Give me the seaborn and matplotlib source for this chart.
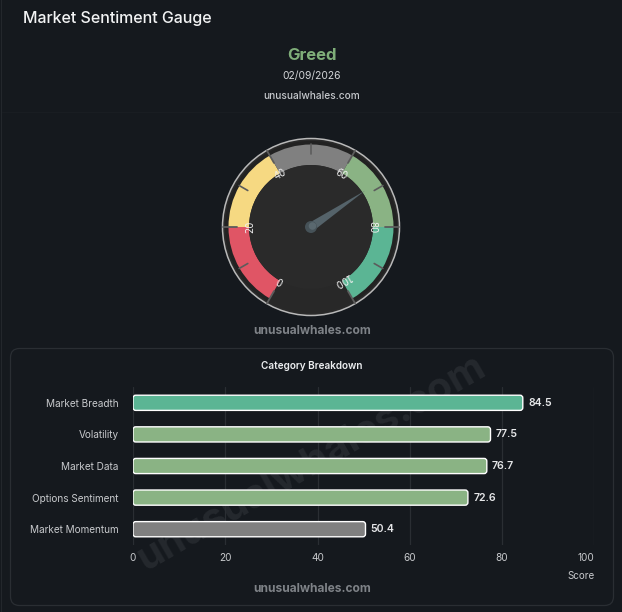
"""Market sentiment gauge with category breakdown bars."""

import numpy as np
import pandas as pd
import matplotlib.pyplot as plt
from matplotlib.patches import Circle, FancyBboxPatch, Polygon, Wedge
import seaborn as sns

# ---------------------------------------------------------------------------
# Data
# ---------------------------------------------------------------------------
CATEGORIES = ["Market Breadth", "Volatility", "Market Data", "Options Sentiment", "Market Momentum"]
SCORES = [84.5, 77.5, 76.7, 72.6, 50.4]
BAR_COLORS = ["#5bb594", "#8ab384", "#8ab384", "#8ab384", "#808080"]
X_TICKS = [0, 20, 40, 60, 80, 100]

GAUGE_EDGES = [0, 20, 40, 60, 80, 100]
GAUGE_COLORS = ["#e05565", "#f6d982", "#808080", "#8ab384", "#5bb594"]
GAUGE_VALUE = 68.7

W, H = 622, 612
BG = "#15191e"
BORDER = "#2a2e33"
TEXT = "#d4d6d9"

sns.set_theme(style="dark")
plt.rcParams["font.family"] = ["Inter", "DejaVu Sans"]


def val_to_angle(v):
    return 240 - 3 * v


fig = plt.figure(figsize=(W / 100, H / 100), dpi=100, facecolor=BG)

# ---------------------------------------------------------------------------
# Page chrome, drawn in pixel coordinates
# ---------------------------------------------------------------------------
bg = fig.add_axes([0, 0, 1, 1], zorder=-1)
bg.set_xlim(0, W)
bg.set_ylim(H, 0)
bg.axis("off")
bg.add_patch(FancyBboxPatch((1.5, -20), 660, 660, boxstyle="round,pad=0,rounding_size=8",
                            fc="none", ec="#23272c", lw=0.8))
bg.plot([2, W], [112, 112], color="#191d22", lw=0.8)
bg.add_patch(FancyBboxPatch((10.5, 348.5), 603, 257, boxstyle="round,pad=0,rounding_size=9",
                            fc="none", ec=BORDER, lw=0.9))

bg.text(23, 19, "Market Sentiment Gauge", color="#f2f3f4", fontsize=11.5, va="center", weight="medium")
bg.text(312, 55.5, "Greed", color="#7fae79", fontsize=12, va="center", ha="center", weight="bold")
bg.text(312, 76, "02/09/2026", color=TEXT, fontsize=7.4, va="center", ha="center")
bg.text(312, 96, "unusualwhales.com", color="#c5c8cc", fontsize=7.3, va="center", ha="center", weight="medium")
bg.text(312, 331.5, "unusualwhales.com", color="#7e8287", fontsize=8.6, va="center", ha="center", weight="bold")
bg.text(312, 588.5, "unusualwhales.com", color="#7e8287", fontsize=8.6, va="center", ha="center", weight="bold")
bg.text(312, 366, "Category Breakdown", color="#eceef0", fontsize=7.2, va="center", ha="center", weight="semibold")
bg.text(312, 463, "unusualwhales.com", color="#25292e", fontsize=29, va="center", ha="center",
        weight="bold", rotation=30, rotation_mode="anchor")

# ---------------------------------------------------------------------------
# Gauge
# ---------------------------------------------------------------------------
cx, cy = 311, 227
gauge = fig.add_axes([(cx - 100) / W, 1 - (cy + 100) / H, 200 / W, 200 / H])
gauge.set_xlim(-100, 100)
gauge.set_ylim(-100, 100)
gauge.set_aspect("equal")
gauge.axis("off")

gauge.add_patch(Circle((0, 0), 88.5, fc="#2a2a2a", ec="#b9b9b9", lw=1.1))
gauge.add_patch(Circle((0, 0), 86, fc="#282828", ec="none"))
gauge.add_patch(Wedge((0, 0), 86, -60, 240, width=6, fc="#222222", ec="none"))

for lo, hi, col in zip(GAUGE_EDGES[:-1], GAUGE_EDGES[1:], GAUGE_COLORS):
    gauge.add_patch(Wedge((0, 0), 82.5, val_to_angle(hi), val_to_angle(lo), width=20.5, fc=col, ec="none"))

gauge.add_patch(Circle((0, 0), 62, fc="#2a2a2a", ec="none"))

# boundary marks and mid-segment ticks
for v in GAUGE_EDGES:
    a = np.radians(val_to_angle(v))
    gauge.plot([74 * np.cos(a), 88 * np.cos(a)], [74 * np.sin(a), 88 * np.sin(a)], color="#5c5c5c", lw=1.3)
    rot = val_to_angle(v) - 90
    gauge.text(61 * np.cos(a), 61 * np.sin(a), str(v), color="#f0f0f0", fontsize=7, zorder=5,
               ha="center", va="center", rotation=rot, rotation_mode="anchor", family="DejaVu Sans")
for lo, hi in zip(GAUGE_EDGES[:-1], GAUGE_EDGES[1:]):
    a = np.radians(val_to_angle((lo + hi) / 2))
    gauge.plot([73 * np.cos(a), 83 * np.cos(a)], [73 * np.sin(a), 83 * np.sin(a)], color="#5c5c5c", lw=1.2)

# needle
a = np.radians(val_to_angle(GAUGE_VALUE))
tip = 65 * np.array([np.cos(a), np.sin(a)])
perp = 4.5 * np.array([-np.sin(a), np.cos(a)])
gauge.add_patch(Polygon([perp, tip, -perp], fc="#55636a", ec="none", zorder=4))
gauge.add_patch(Circle((0, 0), 6, fc="#465258", ec="none", zorder=4))
gauge.add_patch(Circle((1.5, 1), 3.8, fc="#5a686f", ec="none", zorder=4))

# ---------------------------------------------------------------------------
# Category breakdown bars
# ---------------------------------------------------------------------------
df = pd.DataFrame({"category": CATEGORIES, "score": SCORES})
left, right, top, bottom = 133, 594.3, 387, 545
ax = fig.add_axes([left / W, 1 - bottom / H, (right - left) / W, (bottom - top) / H])
ax.patch.set_alpha(0)

sns.barplot(data=df, x="score", y="category", hue="category", palette=BAR_COLORS,
            legend=False, width=0.48, ax=ax, saturation=1)
ax.set_xlim(0, 100)
ax.set_ylim(4.5, -0.5)

# swap square bars for rounded ones, same extents
aspect = (1 / 31.6) / (100 / (right - left))
for patch in list(ax.patches):
    x0, y0 = patch.get_x(), patch.get_y()
    rounded = FancyBboxPatch((x0, y0), patch.get_width(), patch.get_height(),
                             boxstyle="round,pad=0,rounding_size=0.6", mutation_aspect=aspect,
                             fc=patch.get_facecolor(), ec="#ffffff", lw=1.0, zorder=3)
    ax.add_patch(rounded)
    patch.set_visible(False)

for i, s in enumerate(SCORES):
    ax.annotate(f"{s:.1f}", (s, i), xytext=(3.8, 0), textcoords="offset points", color="#e6e7e9",
                fontsize=7.6, va="center", ha="left", weight="semibold", zorder=4)

ax.set_xticks(X_TICKS)
ax.grid(axis="x", color=BORDER, lw=0.9)
ax.grid(axis="y", visible=False)
ax.set_axisbelow(True)
ax.tick_params(axis="both", length=0, colors="#c8cacd", labelsize=7.2)
ax.tick_params(axis="y", pad=10.5)
ax.tick_params(axis="x", pad=6)
ax.get_xticklabels()[-1].set_ha("right")
ax.set_xlabel("")
ax.set_ylabel("")
sns.despine(ax=ax, left=True, bottom=True)
bg.text(594.5, 576, "Score", color="#c8cacd", fontsize=7.1, va="center", ha="right")

fig.savefig("out.png", dpi=100, facecolor=BG)
plt.close()
